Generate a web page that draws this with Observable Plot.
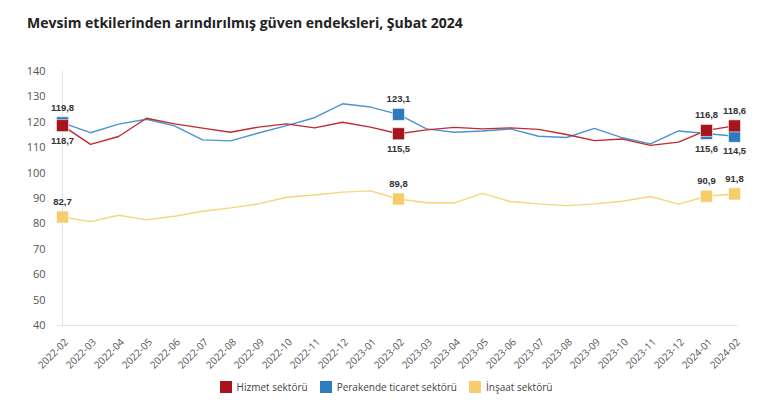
<!DOCTYPE html>
<html>
<head>
<meta charset="utf-8">
<script src="https://cdn.jsdelivr.net/npm/d3@7"></script>
<script src="https://cdn.jsdelivr.net/npm/@observablehq/plot@0.6"></script>
<style>
  body { margin: 0; background: #fff; font-family: "Open Sans", sans-serif; }
  #title { height: 45px; box-sizing: border-box; padding: 13px 0 0 27px; font-size: 14px; font-weight: 700; color: #222; }
  #legend { display: flex; justify-content: center; gap: 12px; font-size: 10px; color: #444; margin-top: 10px; padding-left: 2px; }
  #legend span.item { display: flex; align-items: center; }
  #legend span.sw { width: 12px; height: 12px; margin-right: 5px; display: inline-block; }
</style>
</head>
<body>
<div id="title">Mevsim etkilerinden arındırılmış güven endeksleri, Şubat 2024</div>
<div id="chart"></div>
<div id="legend"></div>
<script>
const months = ["2022-02","2022-03","2022-04","2022-05","2022-06","2022-07","2022-08","2022-09","2022-10","2022-11","2022-12","2023-01","2023-02","2023-03","2023-04","2023-05","2023-06","2023-07","2023-08","2023-09","2023-10","2023-11","2023-12","2024-01","2024-02"];
const seriesNames = ["Hizmet sektörü", "Perakende ticaret sektörü", "İnşaat sektörü"];
const hizmet =    [118.7,111.3,114.4,121.6,119.4,117.7,116.1,118.1,119.4,117.8,120.0,118.1,115.5,117.0,118.0,117.4,117.8,117.2,115.2,112.8,113.4,110.9,112.2,116.8,118.6];
const perakende = [119.8,115.9,119.3,121.2,118.6,113.1,112.7,115.8,118.7,121.8,127.3,126.0,123.1,117.4,116.1,116.6,117.4,114.5,114.0,117.6,113.9,111.5,116.6,115.6,114.5];
const insaat =    [82.7,80.9,83.4,81.6,83.0,85.0,86.3,87.9,90.5,91.4,92.5,93.0,89.8,88.3,88.3,92.0,88.8,87.9,87.2,87.9,88.9,90.8,87.8,90.9,91.8];
const highlightMonths = ["2022-02","2023-02","2024-01","2024-02"];
const yTicks = [40,50,60,70,80,90,100,110,120,130,140];

const lineColors = {"Hizmet sektörü": "#c22a31", "Perakende ticaret sektörü": "#4b93d2", "İnşaat sektörü": "#f8d47c"};
const markColors = {"Hizmet sektörü": "#a8141b", "Perakende ticaret sektörü": "#2e7bbf", "İnşaat sektörü": "#f7cd6b"};

const valuesBy = {"Hizmet sektörü": hizmet, "Perakende ticaret sektörü": perakende, "İnşaat sektörü": insaat};
const rows = [];
for (const s of seriesNames) months.forEach((m, i) => rows.push({series: s, month: m, value: valuesBy[s][i]}));

// draw order for markers: blue, red, yellow
const markerOrder = ["Perakende ticaret sektörü", "Hizmet sektörü", "İnşaat sektörü"];
const hl = [];
for (const s of markerOrder) for (const m of highlightMonths) {
  const i = months.indexOf(m);
  const v = valuesBy[s][i];
  let above = true;
  if (s !== "İnşaat sektörü") {
    const other = s === "Hizmet sektörü" ? perakende[i] : hizmet[i];
    above = v >= other;
  }
  hl.push({series: s, month: m, value: v, above});
}
const fmt = v => v.toFixed(1).replace(".", ",");
const labelFont = "'Liberation Sans', Arial, sans-serif";

const chart = Plot.plot({
  width: 770,
  height: 325,
  marginTop: 26,
  marginBottom: 45,
  marginLeft: 57,
  marginRight: 32,
  style: {fontFamily: "'Open Sans', sans-serif", color: "#444", background: "#fff"},
  x: {type: "point", domain: months, padding: 0, label: null, axis: null},
  y: {domain: [40, 140], ticks: yTicks, label: null, tickSize: 0, tickPadding: 12},
  marks: [
    Plot.ruleX([months[0]], {stroke: "#e4e4e4", strokeWidth: 1.2}),
    Plot.ruleY([40], {stroke: "#e4e4e4", strokeWidth: 1.2}),
    Plot.axisY({ticks: yTicks, tickSize: 0, tickPadding: 12, fontSize: 11, fill: "#555", label: null}),
    Plot.text(months, {x: d => d, frameAnchor: "bottom", text: d => d, rotate: -45, textAnchor: "end", lineAnchor: "middle", dx: 4, dy: 15, fontSize: 10, fill: "#555"}),
    ...markerOrder.map(s => Plot.line(rows.filter(d => d.series === s), {x: "month", y: "value", stroke: lineColors[s], strokeWidth: 1.4})),
    Plot.dot(hl, {x: "month", y: "value", symbol: "square", r: 6.8, fill: d => markColors[d.series], stroke: "#fff", strokeWidth: 0.6}),
    Plot.text(hl.filter(d => d.above), {x: "month", y: "value", text: d => fmt(d.value), dy: -15, fontWeight: "bold", fontSize: 9.5, fontFamily: labelFont, fill: "#333"}),
    Plot.text(hl.filter(d => !d.above), {x: "month", y: "value", text: d => fmt(d.value), dy: 15, fontWeight: "bold", fontSize: 9.5, fontFamily: labelFont, fill: "#333"})
  ]
});
document.getElementById("chart").appendChild(chart);

const legend = document.getElementById("legend");
for (const s of seriesNames) {
  const item = document.createElement("span");
  item.className = "item";
  item.innerHTML = `<span class="sw" style="background:${markColors[s]}"></span>${s}`;
  legend.appendChild(item);
}
</script>
</body>
</html>
